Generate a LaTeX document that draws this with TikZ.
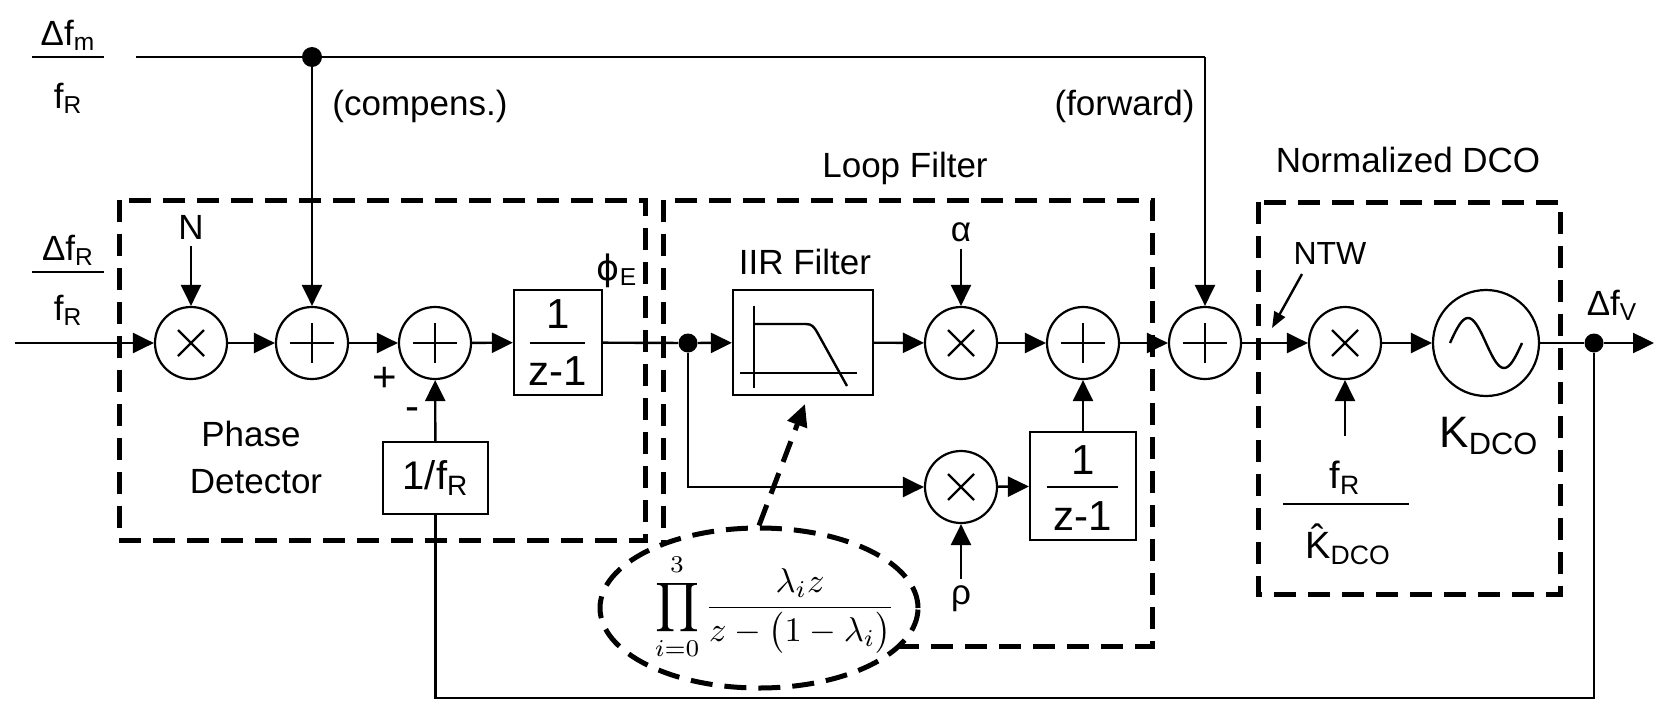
\documentclass[tikz,border=0pt]{standalone}
\usepackage{fontspec}
\setmainfont{Liberation Sans}
\newfontfamily\dvfont{DejaVu Sans}
\usepackage{graphicx}
\usetikzlibrary{arrows.meta,shapes.geometric}
\begin{document}
\begin{tikzpicture}[x=0.5pt,y=-0.5pt,
  font=\fontsize{17.5}{21}\selectfont,
  sig/.style={line width=1.2pt},
  arr/.style={sig,-{Triangle[length=10.5pt,width=10pt]}},
  sarr/.style={sig,-{Triangle[length=8pt,width=6pt]}},
  dbox/.style={line width=2.5pt,dash pattern=on 11pt off 6pt},
  circ/.style={circle,draw,line width=1.1pt,minimum size=36pt,inner sep=0pt},
  sumc/.style={circ,path picture={\draw[line width=1.1pt]
     ([xshift=-11pt]path picture bounding box.center) -- ([xshift=11pt]path picture bounding box.center)
     ([yshift=-10pt]path picture bounding box.center) -- ([yshift=10pt]path picture bounding box.center);}},
  mulc/.style={circ,path picture={\draw[line width=1.1pt]
     ([shift={(-6.5pt,-6.5pt)}]path picture bounding box.center) -- ([shift={(6.5pt,6.5pt)}]path picture bounding box.center)
     ([shift={(-6.5pt,6.5pt)}]path picture bounding box.center) -- ([shift={(6.5pt,-6.5pt)}]path picture bounding box.center);}},
  blk/.style={draw,line width=1.1pt,inner sep=0pt},
  jdot/.style={circle,fill,inner sep=0pt,minimum size=9.5pt},
  lbl/.style={inner sep=0pt},
  big/.style={font=\fontsize{21}{24}\selectfont},
]
\useasboundingbox (0,0) rectangle (1654,702);

% dashed group boxes
\draw[dbox] (119,200) rectangle (645,540);
\draw[dbox] (663,200) rectangle (1152,646);
\draw[dbox] (1258,202) rectangle (1560,594);

% group titles and notes
\node[lbl,anchor=base] (tLF) at (905,177) {Loop Filter};
\node[lbl,anchor=base] (tDCO) at (1408,172) {Normalized DCO};
\node[lbl,anchor=base west] (tcomp) at (332,115) {(compens.)};
\node[lbl,anchor=base east] (tfwd) at (1195,115) {(forward)};
\node[lbl,anchor=base] (tph) at (251,446) {Phase};
\node[lbl,anchor=base] (tdet) at (256,493) {Detector};

% input fractions
\node[lbl,anchor=base] (fmn) at (68,45) {Δf\textsubscript{m}};
\draw[sig] (32,57) -- (104,57);
\node[lbl,anchor=base] (fmd) at (68,108) {f\textsubscript{R}};
\node[lbl,anchor=base] (frn) at (68,260) {Δf\textsubscript{R}};
\draw[sig] (32,272) -- (104,272);
\node[lbl,anchor=base] (frd) at (68,320) {f\textsubscript{R}};

% phase detector
\coordinate (in) at (15,343);
\node[mulc] (m1) at (191,343) {};
\node[sumc] (s2) at (312,343) {};
\node[sumc] (s3) at (435,343) {};
\node (N) at (191,227) {N};
\node[lbl,anchor=base,font=\fontsize{21}{24}\selectfont] (plus) at (385,391) {+};
\node[lbl,anchor=base,font=\fontsize{21}{24}\selectfont] (minus) at (412,420) {-};
\node[blk,minimum width=44pt,minimum height=52.5pt] (int1) at (558,342.5) {};
\node[lbl,big] (int1n) at (558,314) {1};
\draw[sig] (530,343) -- (585,343);
\node[lbl,big] (int1d) at (558,371) {z-1};
\node[blk,minimum width=52.5pt,minimum height=36pt,font=\fontsize{20}{24}\selectfont] (finv) at (435.5,478) {1/f\textsubscript{R}};
\node[lbl,anchor=base] (phiE) at (617,280) {{\dvfont ϕ}\textsubscript{E}};

% top line
\coordinate (tl) at (136,57);
\coordinate (tr) at (1205,57);
\node[jdot,minimum size=10pt] (d0) at (312,57) {};

% loop filter
\node[jdot] (d1) at (688,343) {};
\node[blk,minimum width=70pt,minimum height=52.5pt] (iir) at (803,342.5) {};
\draw[sig] (754,306) -- (754,388);
\draw[sig] (740,373) -- (857,373);
\draw[sig] (754,324) -- (806,324) .. controls (812,324) and (814,327) .. (817,332) -- (847,386);
\node[lbl,anchor=base] (tiir) at (805,274) {IIR Filter};
\node[mulc] (ma) at (961,343) {};
\node (al) at (961,232) {α};
\node[sumc] (s4) at (1083,343) {};
\node[mulc] (mr) at (961,487) {};
\node (rho) at (961,599) {ρ};
\node[blk,minimum width=53pt,minimum height=54pt] (int2) at (1083,486) {};
\node[lbl,big] (int2n) at (1083,460) {1};
\draw[sig] (1047,487) -- (1118,487);
\node[lbl,big] (int2d) at (1083,516) {z-1};

% DCO
\node[sumc] (s5) at (1205,343) {};
\node[mulc] (md) at (1345,343) {};
\node[circ,minimum size=53pt] (osc) at (1486,343) {};
\draw[sig] plot[domain=-36:36,samples=50] ({1486+\x},{343-25*sin(5*(\x+36))});
\node[lbl,anchor=base,font=\fontsize{22}{26}\selectfont] (kdco) at (1489,447) {K\textsubscript{DCO}};
\node[lbl,anchor=base,font=\fontsize{19}{22}\selectfont] (kfr) at (1345,488) {f\textsubscript{R}};
\draw[sig] (1283,504) -- (1409,504);
\node[lbl,anchor=base,font=\fontsize{19}{22}\selectfont] (khat) at (1348,558) {\^{K}\textsubscript{DCO}};
\coordinate (kin) at (1345,436);
\node[lbl,font=\fontsize{16}{19}\selectfont] (ntw) at (1330,253) {NTW};
\coordinate (ntwa) at (1302,274);
\coordinate (ntwb) at (1272,328);
\node[jdot] (d2) at (1594,343) {};
\node[lbl,anchor=base] (dfv) at (1612,315) {Δf\textsubscript{V}};
\coordinate (out) at (1654,343);
\coordinate (fb1) at (1594,698);
\coordinate (fb2) at (435.5,698);

% connectors
\draw[arr] (in) -- (m1);
\draw[arr] (m1) -- (s2);
\draw[arr] (s2) -- (s3);
\draw[arr] (s3) -- (int1);
\draw[sig] (int1) -- (d1);
\draw[arr] (d1) -- (iir);
\draw[arr] (iir) -- (ma);
\draw[arr] (ma) -- (s4);
\draw[arr] (s4) -- (s5);
\draw[arr] (s5) -- (md);
\draw[arr] (md) -- (osc);
\draw[sig] (osc) -- (d2);
\draw[arr] (d2) -- (out);
\draw[arr] (d1) |- (mr);
\draw[arr] (mr) -- (int2);
\draw[arr] (int2) -- (s4);
\draw[arr] (N) -- (m1);
\draw[arr] (al) -- (ma);
\draw[arr] (rho) -- (mr);
\draw[sig] (tl) -- (tr);
\draw[arr] (tr) -- (s5);
\draw[arr] (d0) -- (s2);
\draw[arr] (finv) -- (s3);
\draw[sig] (d2) -- (fb1) -- (fb2) -- (finv.south);
\draw[arr] (kin) -- (md);
\draw[sarr] (ntwa) -- (ntwb);

% ellipse with IIR transfer function
\node[ellipse,draw,dbox,fill=white,minimum width=159pt,minimum height=80pt] (ell) at (759,608) {};
\node[lbl,font=\fontsize{10}{12}\selectfont] (form) at (775,607)
  {\scalebox{1.72}{$\displaystyle\prod_{i=0}^{3}\frac{\lambda_i z}{z-\bigl(1-\lambda_i\bigr)}$}};
\coordinate (iirb) at (805,404);
\draw[dbox,-{Triangle[length=11pt,width=10pt]}] (ell.north) -- (iirb);
\end{tikzpicture}
\end{document}
